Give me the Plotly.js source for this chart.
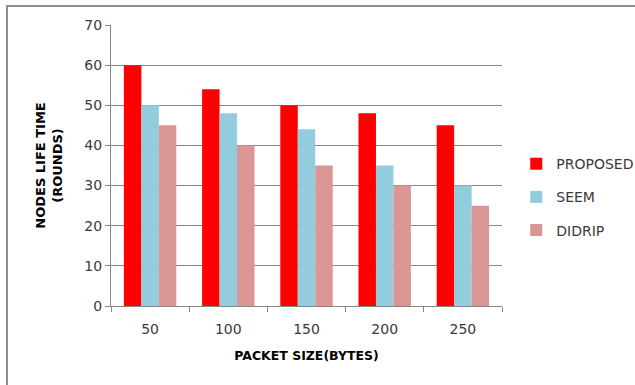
<!DOCTYPE html>
<html>
<head>
<meta charset="utf-8">
<script src="https://cdn.plot.ly/plotly-3.0.1.min.js"></script>
<style>
  html, body { margin: 0; padding: 0; background: #fff; }
  #wrap { position: relative; width: 635px; height: 385px; overflow: hidden; }
  #chart { position: absolute; left: 0; top: 0; width: 635px; height: 385px; }
  #frame { position: absolute; left: 6px; top: 5px; width: 640px; height: 400px;
           border-top: 2px solid #8e8e8e; border-left: 2px solid #8e8e8e; pointer-events: none; }
</style>
</head>
<body>
<div id="wrap">
  <div id="chart"></div>
  <div id="frame"></div>
</div>
<script>
// Packet sizes (bytes) on the category axis
const packetSizes = ['50', '100', '150', '200', '250'];

// Node lifetime in rounds for each scheme
const proposed = [60, 54, 50, 48, 45];
const seem = [50, 48, 44, 35, 30];
const didrip = [45, 40, 35, 30, 25];

const yTicks = [0, 10, 20, 30, 40, 50, 60, 70];

const font = '"DejaVu Sans", "Liberation Sans", sans-serif';
const textColor = '#3a3a3a';

function barTrace(name, values, color, group) {
  return {
    type: 'bar', name: name, x: packetSizes, y: values,
    marker: { color: color, line: { width: 0 } },
    legendgroup: group, hoverinfo: 'skip'
  };
}

const data = [
  barTrace('PROPOSED', proposed, '#ff0000', 'a'),
  barTrace('SEEM', seem, '#93cddd', 'b'),
  barTrace('DIDRIP', didrip, '#d99694', 'c')
];

const layout = {
  width: 635, height: 385,
  margin: { l: 111, r: 133, t: 25, b: 79, pad: 0 },
  paper_bgcolor: '#ffffff', plot_bgcolor: '#ffffff',
  barmode: 'group', bargap: 0.33, bargroupgap: 0,
  font: { family: font, color: textColor, size: 14 },
  showlegend: true,
  legend: {
    xref: 'container', yref: 'container',
    x: 0.813, xanchor: 'left', y: 0.488, yanchor: 'middle',
    font: { family: font, size: 14, color: textColor },
    tracegroupgap: 12, bgcolor: 'rgba(0,0,0,0)'
  },
  xaxis: {
    type: 'category', tickson: 'boundaries',
    ticks: 'outside', ticklen: 5, tickcolor: '#868686', tickwidth: 1,
    showline: true, linecolor: '#868686', linewidth: 1,
    showgrid: false, zeroline: false,
    tickfont: { family: font, size: 14, color: textColor },
    ticklabelstandoff: 10,
    title: { text: '<b>PACKET SIZE(BYTES)</b>', font: { family: font, size: 12.5, color: '#000' }, standoff: 15 },
    automargin: false, fixedrange: true
  },
  yaxis: {
    range: [0, 70], tickvals: yTicks, ticktext: yTicks.map(String),
    ticks: 'outside', ticklen: 5, tickcolor: '#868686', tickwidth: 1,
    showline: true, linecolor: '#868686', linewidth: 1,
    showgrid: true, gridcolor: '#868686', gridwidth: 1, zeroline: false,
    tickfont: { family: font, size: 14, color: textColor },
    title: { text: '<b>NODES LIFE TIME<br>(ROUNDS)</b>', font: { family: font, size: 13, color: '#000' }, standoff: 18 },
    automargin: false, fixedrange: true
  }
};

Plotly.newPlot('chart', data, layout, { displayModeBar: false, staticPlot: true });
</script>
</body>
</html>
